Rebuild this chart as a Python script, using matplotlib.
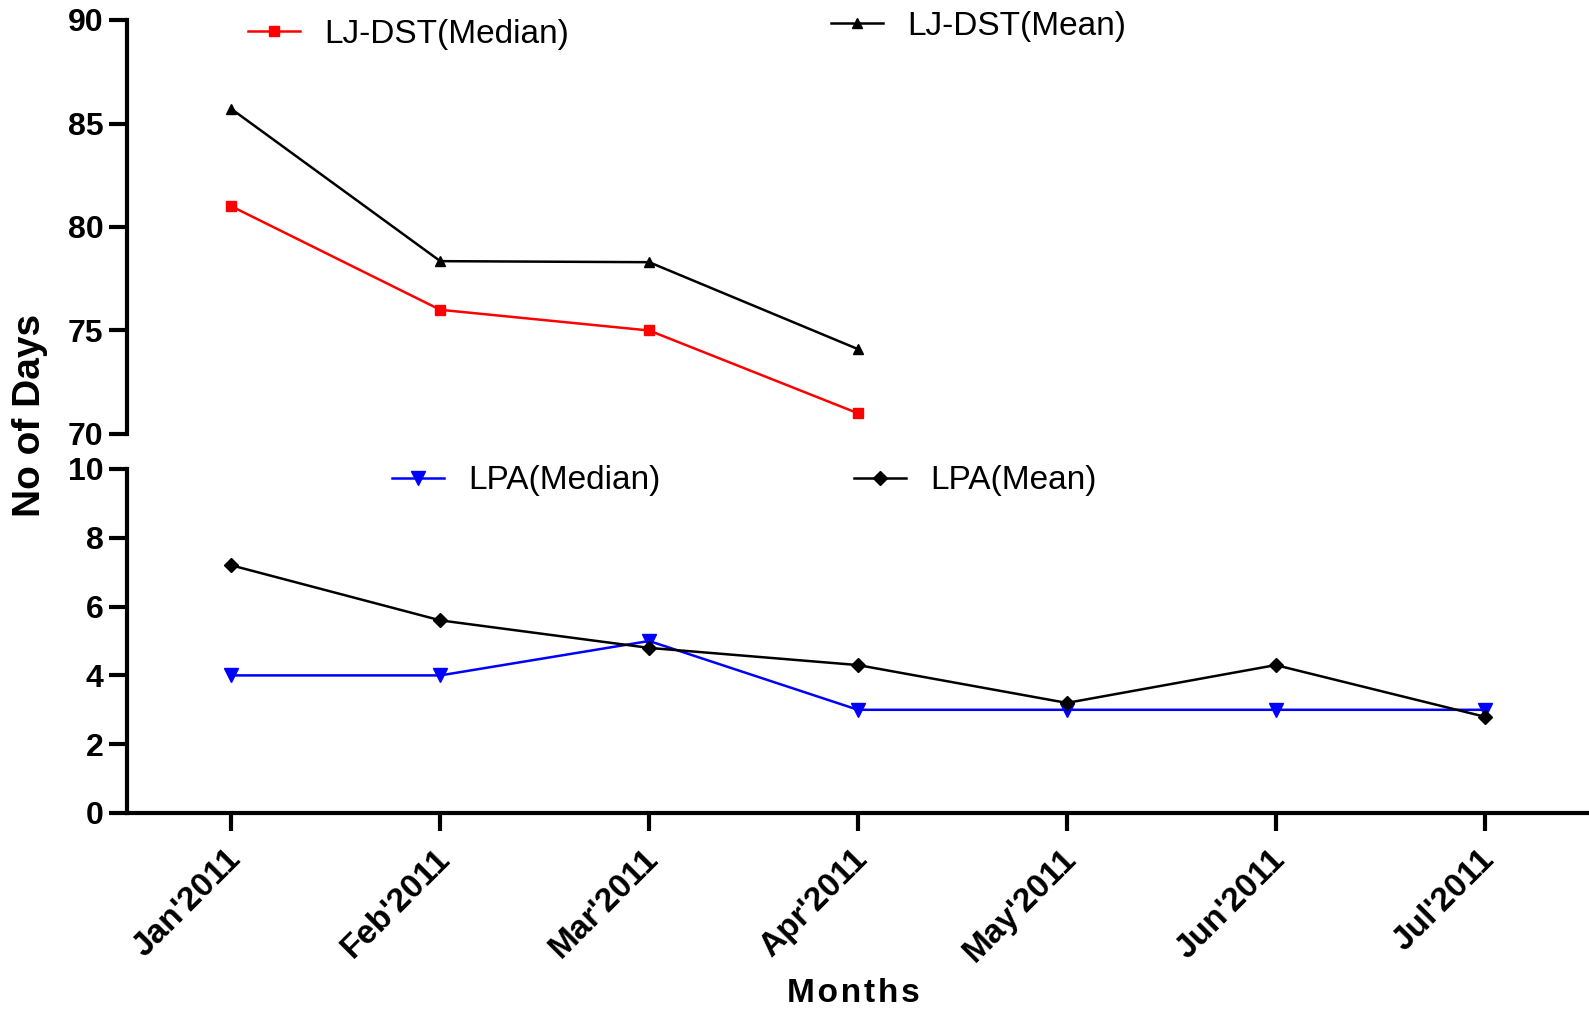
import matplotlib.pyplot as plt
from matplotlib.transforms import ScaledTranslation

plt.rcParams['font.family'] = ['Liberation Sans', 'DejaVu Sans']

months = ["Jan'2011", "Feb'2011", "Mar'2011", "Apr'2011", "May'2011", "Jun'2011", "Jul'2011"]
ljdst_median = [81, 76, 75, 71]
ljdst_mean = [85.7, 78.35, 78.3, 74.1]
lpa_median = [4, 4, 5, 3, 3, 3, 3]
lpa_mean = [7.2, 5.6, 4.8, 4.3, 3.2, 4.3, 2.8]

W, H = 1589, 1010
fig = plt.figure(figsize=(W / 100, H / 100), dpi=100)

def fx(px):
    return px / W

def fy(py):
    return 1 - py / H

left = fx(127)
ax_top = fig.add_axes([left, fy(434), 1 - left, fy(20) - fy(434)])
ax_bot = fig.add_axes([left, fy(813), 1 - left, fy(469) - fy(813)])

x_all = list(range(len(months)))
x_dst = x_all[:len(ljdst_median)]

l1, = ax_top.plot(x_dst, ljdst_median, color='#ff0000', lw=1.8, marker='s', ms=7.5, label='LJ-DST(Median)')
l2, = ax_top.plot(x_dst, ljdst_mean, color='black', lw=1.8, marker='^', ms=7.5, label='LJ-DST(Mean)')
l3, = ax_bot.plot(x_all, lpa_median, color='#0000ff', lw=1.8, marker='v', ms=10, label='LPA(Median)')
l4, = ax_bot.plot(x_all, lpa_mean, color='black', lw=1.8, marker='D', ms=7, label='LPA(Mean)')

ax_top.set_ylim(70, 90)
ax_top.set_yticks([70, 75, 80, 85, 90])
ax_bot.set_ylim(0, 10)
ax_bot.set_yticks([0, 2, 4, 6, 8, 10])
ax_bot.set_xticks(x_all)
ax_bot.set_xticklabels(months, rotation=45, ha='right', va='center',
                       rotation_mode='anchor', fontweight='bold', fontsize=24)

for ax in (ax_top, ax_bot):
    ax.set_xlim(-0.5, 6.5)
    ax.spines['top'].set_visible(False)
    ax.spines['right'].set_visible(False)
    ax.spines['left'].set_linewidth(3)
    ax.spines['bottom'].set_linewidth(3)
    ax.tick_params(axis='both', width=3, length=13, pad=4)
    ax.tick_params(axis='y', labelsize=23)
    for lab in ax.get_yticklabels():
        lab.set_fontweight('bold')
    ax.patch.set_visible(False)

ax_top.spines['bottom'].set_visible(False)
ax_top.tick_params(axis='x', bottom=False, labelbottom=False)
ax_bot.tick_params(axis='x', pad=14)

# nudge month labels a little right/down
shift = ScaledTranslation(5 / 100, -4 / 100, fig.dpi_scale_trans)
for lab in ax_bot.get_xticklabels():
    lab.set_transform(lab.get_transform() + shift)

fig.text(fx(30), fy(415), 'No of Days', rotation=90, ha='center', va='center',
         fontsize=28, fontweight='bold')
fig.text(fx(853), fy(994), '\u200a'.join('Months'), ha='center', va='center',
         fontsize=24, fontweight='bold')

legend_spots = [
    (l1, 248, 34),
    (l2, 831, 26),
    (l3, 392, 481),
    (l4, 854, 481),
]
for handle, px, py in legend_spots:
    fig.legend([handle], [handle.get_label()], loc='center left',
               bbox_to_anchor=(fx(px), fy(py)), frameon=False, fontsize=24,
               handlelength=1.55, handletextpad=0.75, borderpad=0, borderaxespad=0)

fig.savefig('out.png', dpi=100)
